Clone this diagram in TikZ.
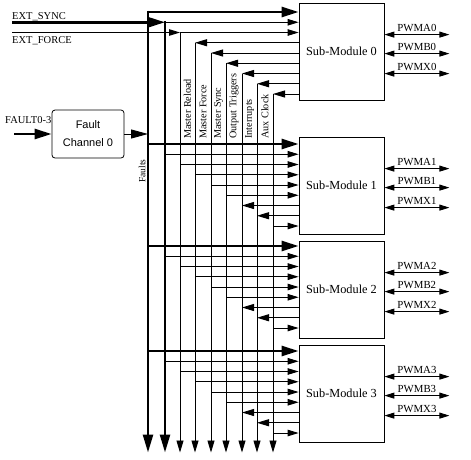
\documentclass[tikz,border=0pt]{standalone}
\usepackage{fontspec}
\setmainfont{Liberation Serif}
\newfontfamily\helvfont{Liberation Sans}
\usetikzlibrary{arrows.meta}
\begin{document}
\begin{tikzpicture}[x=1pt,y=-1pt,
  thinln/.style={line width=0.9pt},
  thickln/.style={line width=2.6pt},
  inarr/.style={thinln,-{Triangle[length=11pt,width=6.5pt]}},
  bigin/.style={thickln,-{Triangle[length=17pt,width=10pt]}},
  bigtip/.style={thinln,-{Triangle[length=17pt,width=9pt]}},
  outarr/.style={thinln,-{Triangle[length=12pt,width=7pt]}},
  busbig/.style={thickln,-{Triangle[length=18pt,width=10pt]}},
  bussmall/.style={thinln,-{Triangle[length=12pt,width=7pt]}},
  pwm/.style={thinln,{Triangle[length=10pt,width=6pt]}-{Triangle[length=10pt,width=6pt]}},
  smbox/.style={draw,line width=0.8pt,minimum width=85pt,minimum height=97pt,inner sep=0pt,font=\fontsize{12.3}{14}\selectfont},
  lbl/.style={inner sep=0pt,font=\fontsize{10.5}{12}\selectfont},
  pwmlbl/.style={inner sep=0pt,font=\fontsize{10.8}{12}\selectfont},
  vlbl/.style={inner sep=0pt,rotate=90,anchor=west,font=\fontsize{10.2}{12}\selectfont},
]
\useasboundingbox (0,0) rectangle (471,459);

% sub-modules
\node[smbox] (sm0) at (341.5,51.5) {Sub-Module 0};
\node[smbox] (sm1) at (341.5,185.5) {Sub-Module 1};
\node[smbox] (sm2) at (341.5,289.5) {Sub-Module 2};
\node[smbox] (sm3) at (341.5,393.5) {Sub-Module 3};

% fault channel
\node[draw,line width=0.8pt,rounded corners=3pt,minimum width=72pt,minimum height=48pt,
      align=center,inner sep=0pt,font=\helvfont\fontsize{11}{18}\selectfont] (fault) at (88,134) {Fault\\Channel 0};

% bus coordinates
\foreach \i/\x in {0/148,1/165,2/180,3/195,4/211,5/226,6/242,7/257,8/273} {
  \coordinate (b\i) at (\x,0);
  \coordinate (t\i) at (\x,12+10.25*\i);
  \coordinate (e\i) at (\x,452.5);
}

% vertical buses
\draw[busbig] (t0) ++(0,-1.3) -- (e0);
\draw[busbig] (t1) ++(0,-1.3) -- (e1);
\foreach \i in {2,...,8} \draw[bussmall] (t\i) -- (e\i);

% module 0 rows
\draw[bigin] (t0) -- (sm0.west |- t0);
\draw[inarr] (t1) -- (sm0.west |- t1);
\draw[inarr] (t2) -- (sm0.west |- t2);
\foreach \i in {3,...,8} \draw[outarr] (sm0.west |- t\i) -- (t\i);

% modules 1-3 rows
\foreach \k/\f in {1/144,2/246,3/351} {
  \foreach \i in {0,...,8} \coordinate (r\k\i) at (0,\f+10.25*\i);
  \draw[bigin] (b0 |- r\k0) -- (sm\k.west |- r\k0);
  \foreach \i in {1,...,5} \draw[inarr] (b\i |- r\k\i) -- (sm\k.west |- r\k\i);
  \foreach \i in {6,7} \draw[outarr] (sm\k.west |- r\k\i) -- (b\i |- r\k\i);
  \draw[inarr] (b8 |- r\k8) -- (sm\k.west |- r\k8);
}

% external inputs
\coordinate (es) at (12,22.25);
\coordinate (ef) at (12,32.5);
\draw[bigin] (es) -- (t1);
\draw[inarr] (ef) -- (t2);
\node[lbl,anchor=base west] (lsync) at (12,19.5) {EXT\_SYNC};
\node[lbl,anchor=base west] (lforce) at (12,43) {EXT\_FORCE};

% fault input / output
\node[lbl,anchor=base west] (lfault) at (5,123) {FAULT0-3};
\coordinate (fin) at (14,134);
\draw[bigin] (fin) -- (fault.west);
\draw[bigtip] (fault.east) -- (b0 |- fault.east);
\node[inner sep=0pt,rotate=90,font=\fontsize{9.5}{11}\selectfont] (lfaults) at (142,171) {Faults};

% bus labels
\foreach \x/\t [count=\n] in {187.5/Master Reload,203/Master Force,218.5/Master Sync,234/Output Triggers,249.5/Interrupts,265/Aux Clock}
  \node[vlbl] (vl\n) at (\x,139) {\t};

% PWM outputs
\foreach \k in {0,...,3} {
  \foreach \s/\dy in {A/32,B/51,X/71} {
    \path (sm\k.north east) ++(0,\dy) coordinate (q\s\k);
    \draw[pwm] (q\s\k) -- ++(65,0) coordinate (o\s\k)
      node[pwmlbl,midway,above=2pt] {PWM\s\k};
  }
}
\end{tikzpicture}
\end{document}
